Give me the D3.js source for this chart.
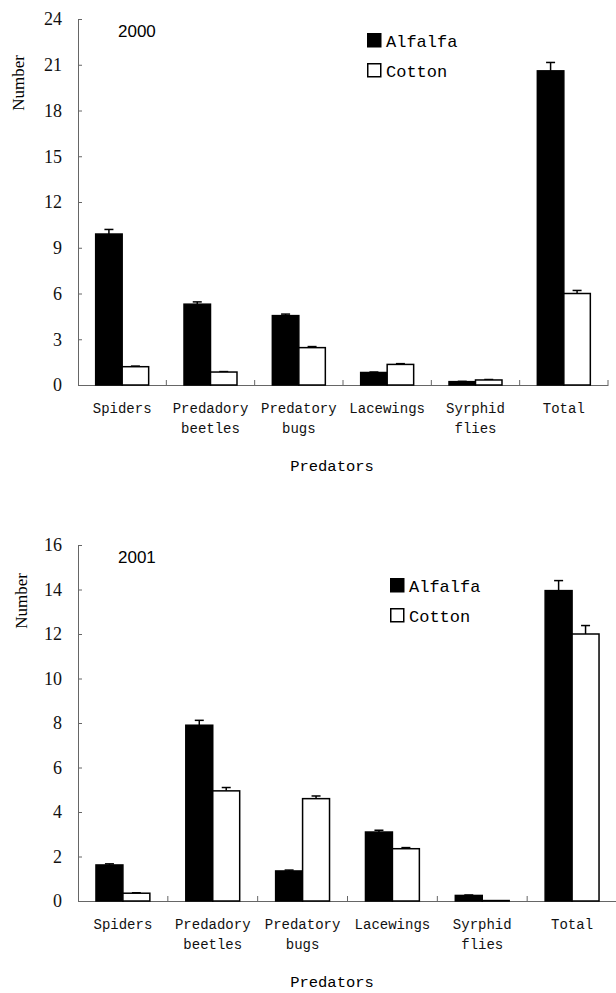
<!DOCTYPE html>
<html>
<head>
<meta charset="utf-8">
<script src="https://cdn.jsdelivr.net/npm/d3@7"></script>
<style>
  body { margin: 0; background: #fff; }
  svg { display: block; }
</style>
</head>
<body>
<svg id="chart" width="616" height="993"></svg>
<script>
// values
var categories = ['Spiders', 'Predadory beetles', 'Predatory bugs', 'Lacewings', 'Syrphid flies', 'Total'];
var category_lines = [['Spiders'], ['Predadory', 'beetles'], ['Predatory', 'bugs'], ['Lacewings'], ['Syrphid', 'flies'], ['Total']];
var series = ['Alfalfa', 'Cotton'];

var alfalfa_2000 = [9.9, 5.3, 4.55, 0.82, 0.22, 20.6];
var alfalfa_2000_se = [0.3, 0.15, 0.1, 0.03, 0.02, 0.55];
var cotton_2000 = [1.2, 0.85, 2.45, 1.35, 0.33, 6.0];
var cotton_2000_se = [0.04, 0.03, 0.07, 0.05, 0.03, 0.2];

var alfalfa_2001 = [1.62, 7.9, 1.35, 3.1, 0.25, 13.95];
var alfalfa_2001_se = [0.05, 0.22, 0.04, 0.08, 0.02, 0.45];
var cotton_2001 = [0.35, 4.95, 4.6, 2.35, 0.02, 12.0];
var cotton_2001_se = [0.02, 0.15, 0.12, 0.05, 0, 0.38];

var y_ticks_2000 = [0, 3, 6, 9, 12, 15, 18, 21, 24];
var y_ticks_2001 = [0, 2, 4, 6, 8, 10, 12, 14, 16];

var svg = d3.select('#chart');
var mono = '"Liberation Mono", Cousine, "Courier New", monospace';
var serif = '"Liberation Serif", Tinos, "Times New Roman", serif';

function drawPanel(p) {
     var x = d3.scaleBand()
          .domain(categories)
          .range([p.left, p.right])
          .padding(0);
     var x_inner = d3.scaleBand()
          .domain(series)
          .range([0, x.bandwidth()])
          .paddingInner(0)
          .paddingOuter(0.667);
     var y = d3.scaleLinear()
          .domain([0, p.ticks[p.ticks.length - 1]])
          .range([p.bottom, p.top]);

     var g = svg.append('g');

     // y axis, ticks pointing inward
     var y_axis = d3.axisLeft(y)
          .tickValues(p.ticks)
          .tickSizeInner(-4)
          .tickSizeOuter(0)
          .tickPadding(16);
     var ya = g.append('g')
          .attr('transform', 'translate(' + p.left + ',0)')
          .call(y_axis)
          .attr('font-family', serif)
          .attr('font-size', 18);
     ya.select('.domain').attr('stroke', '#666');
     ya.selectAll('.tick line').attr('stroke', '#666');
     ya.selectAll('.tick text').attr('fill', '#111');

     // x axis line and boundary ticks
     var xa = g.append('g')
          .attr('transform', 'translate(0,' + p.bottom + ')')
          .call(d3.axisBottom(x).tickSize(0).tickSizeOuter(0).tickFormat(''));
     xa.select('.domain').attr('stroke', '#666');
     xa.selectAll('.tick').remove();

     g.append('g').selectAll('line')
          .data(categories.slice(1).map(c => x(c)).concat([p.right]))
          .enter()
          .append('line')
          .attr('x1', d => d)
          .attr('x2', d => d)
          .attr('y1', p.bottom)
          .attr('y2', p.bottom - 5)
          .attr('stroke', '#666');

     // category labels
     var labels = g.append('g').selectAll('text')
          .data(categories)
          .enter()
          .append('text')
          .attr('text-anchor', 'middle')
          .attr('font-family', mono)
          .attr('font-size', 14)
          .attr('fill', '#111');
     labels.each(function (c, i) {
          var t = d3.select(this);
          category_lines[i].forEach((line, j) => {
               t.append('tspan')
                    .attr('x', x(c) + x.bandwidth() / 2)
                    .attr('y', p.bottom + 28 + j * 20)
                    .text(line);
          });
     });

     // bars
     var sets = [
          { name: 'Alfalfa', values: p.alfalfa, se: p.alfalfa_se, fill: '#000' },
          { name: 'Cotton', values: p.cotton, se: p.cotton_se, fill: '#fff' }
     ];
     sets.forEach(s => {
          var rows = categories.map((c, i) => ({ c: c, v: s.values[i], e: s.se[i] }));
          var bx = d => x(d.c) + x_inner(s.name);
          var cx = d => bx(d) + x_inner.bandwidth() / 2;

          g.append('g').selectAll('line')
               .data(rows.filter(d => d.e > 0))
               .enter()
               .append('line')
               .attr('x1', cx)
               .attr('x2', cx)
               .attr('y1', d => y(d.v))
               .attr('y2', d => y(d.v + d.e))
               .attr('stroke', '#000')
               .attr('stroke-width', 1.5);
          g.append('g').selectAll('line')
               .data(rows.filter(d => d.e > 0))
               .enter()
               .append('line')
               .attr('x1', d => cx(d) - 4.5)
               .attr('x2', d => cx(d) + 4.5)
               .attr('y1', d => y(d.v + d.e))
               .attr('y2', d => y(d.v + d.e))
               .attr('stroke', '#000')
               .attr('stroke-width', 1.5);

          g.append('g').selectAll('rect')
               .data(rows)
               .enter()
               .append('rect')
               .attr('x', bx)
               .attr('y', d => y(d.v))
               .attr('width', x_inner.bandwidth())
               .attr('height', d => y(0) - y(d.v))
               .attr('fill', s.fill)
               .attr('stroke', '#000')
               .attr('stroke-width', 1.5);
     });

     // year label
     g.append('text')
          .attr('x', p.left + 40)
          .attr('y', p.top + 18)
          .attr('font-family', '"Liberation Sans", Arimo, Arial, sans-serif')
          .attr('font-size', 17)
          .text(p.year);

     // y axis title
     g.append('text')
          .attr('transform', 'rotate(-90)')
          .attr('x', -p.number_y)
          .attr('y', p.number_x)
          .attr('text-anchor', 'middle')
          .attr('font-family', serif)
          .attr('font-size', 17)
          .text('Number');

     // x axis title
     g.append('text')
          .attr('x', 332)
          .attr('y', p.bottom + 86)
          .attr('text-anchor', 'middle')
          .attr('font-family', mono)
          .attr('font-size', 15.5)
          .text('Predators');

     // legend
     var leg = g.append('g')
          .attr('transform', 'translate(' + p.legend_x + ',' + p.legend_y + ')');
     sets.forEach((s, i) => {
          leg.append('rect')
               .attr('x', 0.75)
               .attr('y', i * 30 + 0.75)
               .attr('width', 13)
               .attr('height', 13)
               .attr('fill', s.fill)
               .attr('stroke', '#000')
               .attr('stroke-width', 1.5);
          leg.append('text')
               .attr('x', 19)
               .attr('y', i * 30 + 14)
               .attr('font-family', mono)
               .attr('font-size', 17)
               .text(s.name);
     });
}

drawPanel({
     year: '2000', ticks: y_ticks_2000,
     alfalfa: alfalfa_2000, alfalfa_se: alfalfa_2000_se,
     cotton: cotton_2000, cotton_se: cotton_2000_se,
     left: 78, right: 608, top: 19, bottom: 385,
     number_x: 24, number_y: 83,
     legend_x: 367, legend_y: 33
});

drawPanel({
     year: '2001', ticks: y_ticks_2001,
     alfalfa: alfalfa_2001, alfalfa_se: alfalfa_2001_se,
     cotton: cotton_2001, cotton_se: cotton_2001_se,
     left: 78, right: 617, top: 545, bottom: 901,
     number_x: 27, number_y: 601,
     legend_x: 390, legend_y: 578
});
</script>
</body>
</html>
